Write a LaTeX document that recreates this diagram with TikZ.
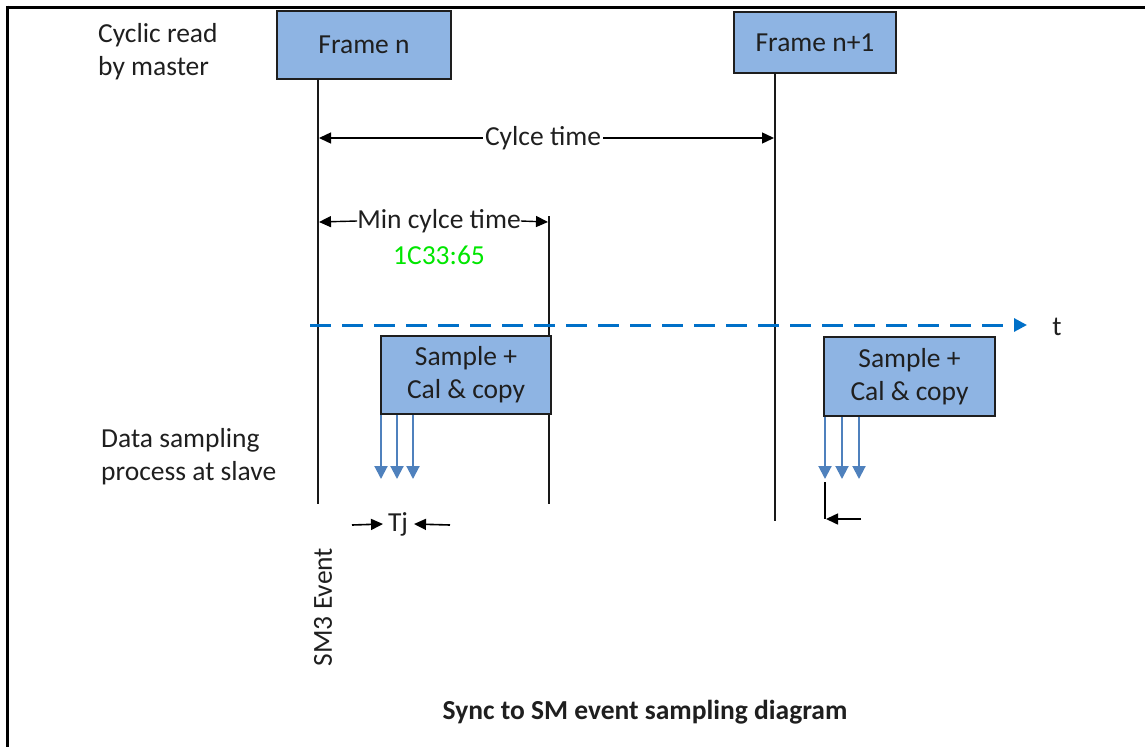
\documentclass[tikz,border=0pt]{standalone}
\usepackage{fontspec}
\setmainfont{Carlito}
\usetikzlibrary{arrows.meta}
\definecolor{boxfill}{RGB}{142,180,227}
\definecolor{boxline}{RGB}{30,30,30}
\definecolor{axisblue}{RGB}{0,112,200}
\definecolor{samplearrow}{RGB}{79,129,189}
\definecolor{codegreen}{RGB}{0,230,0}
\tikzset{
  txt/.style={font=\fontsize{27.5}{33}\selectfont, text=black!88, inner sep=0pt},
  framebox/.style={draw=boxline, line width=1.6pt, fill=boxfill, inner sep=0pt,
    font=\fontsize{27.5}{33}\selectfont, text=black!88},
  timeline/.style={line width=1.8pt, draw=black!90},
  dim/.style={line width=1.4pt, -{Triangle[length=12pt,width=11pt]}},
  tick/.style={line width=1.6pt, -{Triangle[length=12pt,width=11pt]}},
  sampling/.style={line width=2pt, draw=samplearrow,
    -{Triangle[length=13pt,width=13pt]}},
  frameedge/.style={line width=3pt}
}
\begin{document}
\begin{tikzpicture}[x=1pt,y=-1pt]
\useasboundingbox (0,0) rectangle (1145,747);

% frame edges
\draw[frameedge] (7,7) -- (1145,7);
\draw[frameedge] (7,5.5) -- (7,747);

% left labels
\node[txt, anchor=west, align=left] (lbl1) at (98,52) {Cyclic read\\by master};
\node[txt, anchor=west, align=left] (lbl2) at (101,457) {Data sampling\\process at slave};

% master frames
\node[framebox, minimum width=174pt, minimum height=68pt] (fn) at (364,45) {Frame n};
\node[framebox, minimum width=162pt, minimum height=61pt] (fn1) at (815,42.5) {Frame n+1};

% time lines
\coordinate (fnTop) at (318,79);
\coordinate (fnBot) at (318,504);
\coordinate (fn1Top) at (775,73);
\coordinate (fn1Bot) at (775,521);
\coordinate (minTop) at (549,216);
\coordinate (minBot) at (549,504);
\draw[timeline] (fnTop) -- (fnBot);
\draw[timeline] (fn1Top) -- (fn1Bot);
\draw[timeline] (minTop) -- (minBot);

% cycle time
\node[txt] (cyc) at (543,138) {Cylce time};
\coordinate (cycL) at (319,138);
\coordinate (cycR) at (774,138);
\draw[dim] (cyc.west) ++(-2,0) -- (cycL);
\draw[dim] (cyc.east) ++(2,0) -- (cycR);

% min cycle time
\node[txt] (mct) at (439,221) {Min cylce time};
\node[txt, text=codegreen] (code) at (439,255) {1C33:65};
\coordinate (mctL) at (319,222);
\coordinate (mctR) at (548,222);
\draw[dim] (mct.west) -- (mctL);
\draw[dim] (mct.east) -- (mctR);

% time axis
\coordinate (axS) at (310,325);
\coordinate (axE) at (1027,325);
\draw[axisblue, line width=3pt, dash pattern=on 21pt off 11pt,
  -{Triangle[length=13pt,width=13pt]}] (axS) -- (axE);
\node[txt] (t) at (1057,327) {t};

% sampling blocks
\node[framebox, minimum width=170pt, minimum height=78pt, align=center] (s1) at (466,375)
  {Sample +\\Cal \& copy};
\node[framebox, minimum width=171pt, minimum height=79pt, align=center] (s2) at (909.5,376.5)
  {Sample +\\Cal \& copy};

% sampling instants
\foreach \x [count=\i] in {381,397,413} {
  \coordinate (a\i) at (\x,479);
  \draw[sampling] (\x,375 |- s1.south) -- (a\i);
}
\foreach \x [count=\i] in {825,842,859} {
  \coordinate (b\i) at (\x,479);
  \draw[sampling] (\x,376 |- s2.south) -- (b\i);
}

% jitter
\node[txt] (tj) at (398,524) {Tj};
\coordinate (tjL) at (352,525);
\coordinate (tjR) at (450,525);
\draw[tick] (tjL) -- (tj.west -| 383,0);
\draw[tick] (tjR) -- (tj.east -| 414,0);

\coordinate (jTop) at (825,482);
\coordinate (jCorner) at (825,519);
\coordinate (jR) at (861,519);
\draw[line width=1.6pt] (jTop) -- (jCorner);
\draw[tick] (jR) -- (826,519);

% SM event label
\node[txt, rotate=90] (sm3) at (323,607) {SM3 Event};

% caption
\node[txt, font=\fontsize{27.5}{33}\selectfont\bfseries] (title) at (645,712)
  {Sync to SM event sampling diagram};
\end{tikzpicture}
\end{document}
